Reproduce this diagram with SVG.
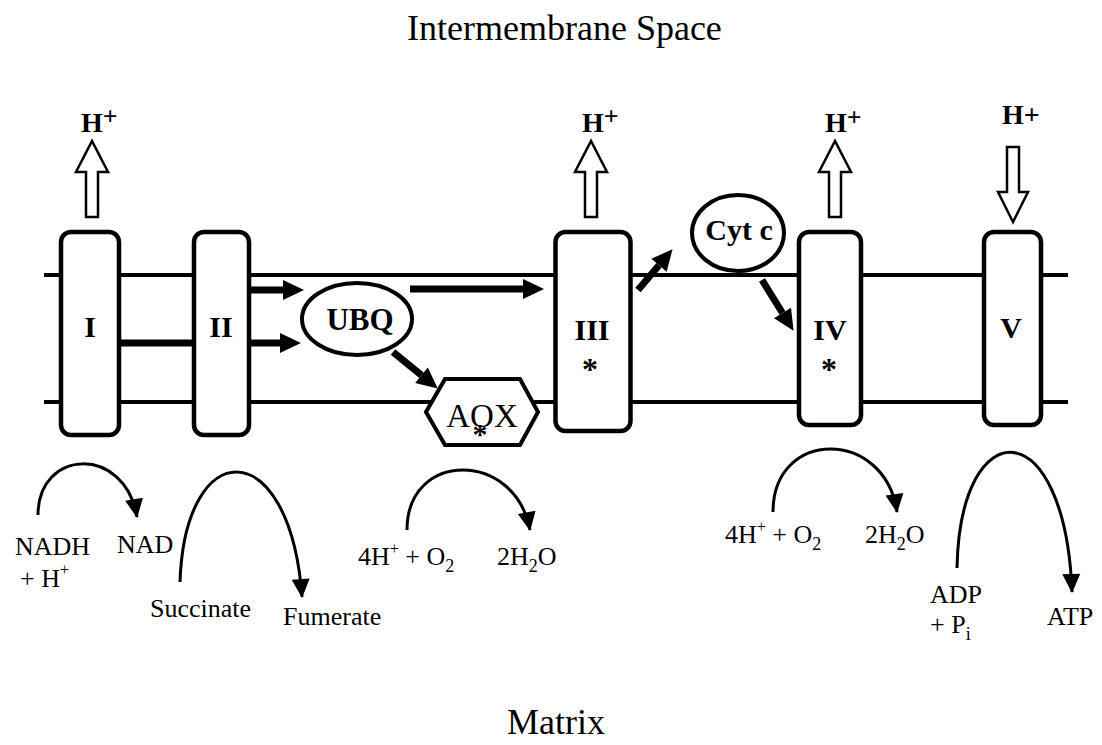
<svg xmlns="http://www.w3.org/2000/svg" width="1102" height="745" viewBox="0 0 1102 745">
<style>
text{font-family:"Liberation Serif","Times New Roman",serif;fill:#000}
.title{font-size:36px}
.lbl{font-size:30px;font-weight:bold;text-anchor:middle}
.hp{font-size:28px;font-weight:bold}
.chem{font-size:26px}
.box{fill:#fff;stroke:#000;stroke-width:4.5}
.mem{stroke:#000;stroke-width:4;fill:none}
.hollow{fill:#fff;stroke:#000;stroke-width:2.5;stroke-linejoin:miter}
.thick{stroke:#000;stroke-width:7;fill:none}
.thin{stroke:#000;stroke-width:3;fill:none}
</style>
<defs>
<marker id="bighead" markerUnits="userSpaceOnUse" markerWidth="22" markerHeight="22" refX="0" refY="10" orient="auto" overflow="visible">
<path d="M0,0 L21,10 L0,20 z" fill="#000"/>
</marker>
<marker id="smallhead" markerUnits="userSpaceOnUse" markerWidth="20" markerHeight="18" refX="18" refY="9" orient="auto" overflow="visible">
<path d="M0,0 L19,9 L0,18 z" fill="#000"/>
</marker>
</defs>
<rect width="1102" height="745" fill="#fff"/>

<text class="title" x="407" y="40">Intermembrane Space</text>
<text class="title" x="507" y="734">Matrix</text>

<g id="membrane">
<line class="mem" x1="44" y1="275" x2="1068" y2="275"/>
<line class="mem" x1="44" y1="402" x2="1068" y2="402"/>
</g>

<g id="connectors">
<line class="thick" x1="121" y1="343" x2="194" y2="343"/>
<line class="thick" x1="251" y1="290" x2="283" y2="290" marker-end="url(#bighead)"/>
<line class="thick" x1="251" y1="343" x2="280" y2="343" marker-end="url(#bighead)"/>
<line class="thick" x1="410" y1="289" x2="523" y2="289" marker-end="url(#bighead)"/>
<line class="thick" x1="393" y1="352" x2="421.5" y2="375.3" marker-end="url(#bighead)"/>
<line class="thick" x1="638" y1="290" x2="659" y2="265.2" marker-end="url(#bighead)"/>
<line class="thick" x1="762" y1="280" x2="782.5" y2="313" marker-end="url(#bighead)"/>
<path class="thin" d="M38,515 C38,448 125,445 137,517" marker-end="url(#smallhead)"/>
<path class="thin" d="M180,582 C185,433 290,433 302,597" marker-end="url(#smallhead)"/>
<path class="thin" d="M407,530 C407,450 515,450 530,530" marker-end="url(#smallhead)"/>
<path class="thin" d="M773,512 C773,428 885,428 897,512" marker-end="url(#smallhead)"/>
<path class="thin" d="M957,568 C960,410 1065,410 1072,592" marker-end="url(#smallhead)"/>
</g>

<g id="complex-I">
<rect class="box" x="61" y="232" width="58" height="203" rx="10"/>
<text class="lbl" x="90" y="337">I</text>
<polygon class="hollow" points="86,217 98,217 98,172 108,172 92,141 76,172 86,172"/>
<text class="hp" x="81" y="132">H<tspan font-size="26" dy="-7">+</tspan></text>
</g>

<g id="complex-II">
<rect class="box" x="194" y="232" width="55" height="203" rx="10"/>
<text class="lbl" x="221" y="337">II</text>
</g>

<g id="UBQ">
<ellipse cx="357" cy="319" rx="55" ry="36" fill="#fff" stroke="#000" stroke-width="4"/>
<text class="lbl" x="360" y="330" style="font-size:31px">UBQ</text>
</g>

<g id="AOX">
<polygon points="426,412 445,379 520,379 538,412 520,445 445,445" fill="#fff" stroke="#000" stroke-width="4"/>
<text x="482" y="427" style="font-size:33px;text-anchor:middle">AOX</text>
<text x="480" y="444" style="font-size:30px;font-weight:bold;text-anchor:middle">*</text>
</g>

<g id="complex-III">
<rect class="box" x="555.5" y="232" width="75" height="199" rx="10"/>
<text class="lbl" x="592" y="340">III</text>
<text class="lbl" x="590" y="380" style="font-size:32px">*</text>
<polygon class="hollow" points="585,217 597,217 597,172 607,172 591,141 575,172 585,172"/>
<text class="hp" x="582" y="132">H<tspan font-size="26" dy="-7">+</tspan></text>
</g>

<g id="CytC">
<ellipse cx="738" cy="233" rx="46" ry="38" fill="#fff" stroke="#000" stroke-width="4"/>
<text class="lbl" x="739" y="240">Cyt c</text>
</g>

<g id="complex-IV">
<rect class="box" x="799" y="232" width="62" height="193" rx="10"/>
<text class="lbl" x="830" y="340">IV</text>
<text class="lbl" x="829" y="380" style="font-size:32px">*</text>
<polygon class="hollow" points="829,217 841,217 841,172 851,172 835,141 819,172 829,172"/>
<text class="hp" x="825" y="132">H<tspan font-size="26" dy="-6">+</tspan></text>
</g>

<g id="complex-V">
<rect class="box" x="984" y="232" width="57" height="193" rx="10"/>
<text class="lbl" x="1011" y="338">V</text>
<polygon class="hollow" points="1007,147 1019,147 1019,192 1028,192 1013,222 998,192 1007,192"/>
<text class="hp" x="1002" y="124">H+</text>
</g>

<g id="reactions">
<text class="chem" x="15" y="555">NADH</text>
<text class="chem" x="20" y="587">+ H<tspan font-size="16" dy="-12">+</tspan></text>
<text class="chem" x="117" y="553">NAD</text>
<text class="chem" x="150" y="617">Succinate</text>
<text class="chem" x="283" y="625">Fumerate</text>
<text class="chem" x="358" y="565">4H<tspan font-size="16" dy="-11">+</tspan><tspan dy="11"> + O</tspan><tspan font-size="18" dy="7">2</tspan></text>
<text class="chem" x="497" y="565">2H<tspan font-size="18" dy="7">2</tspan><tspan dy="-7">O</tspan></text>
<text class="chem" x="725" y="543">4H<tspan font-size="16" dy="-11">+</tspan><tspan dy="11"> + O</tspan><tspan font-size="18" dy="7">2</tspan></text>
<text class="chem" x="865" y="543">2H<tspan font-size="18" dy="7">2</tspan><tspan dy="-7">O</tspan></text>
<text class="chem" x="930" y="603">ADP</text>
<text class="chem" x="930" y="633">+ P<tspan font-size="18" dy="7">i</tspan></text>
<text class="chem" x="1047" y="625">ATP</text>
</g>
</svg>
